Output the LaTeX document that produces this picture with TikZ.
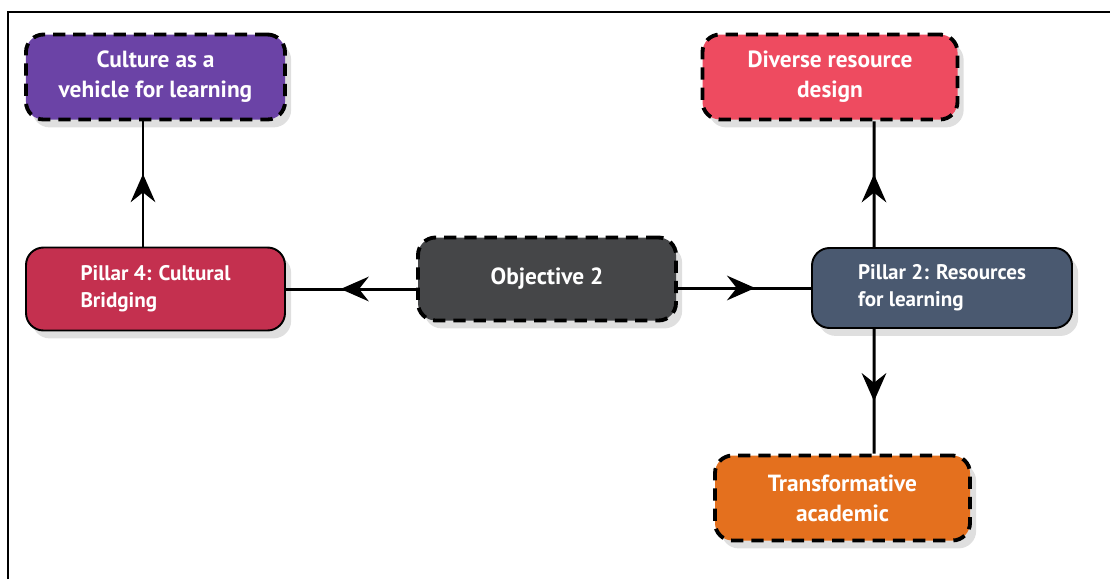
\documentclass[tikz,border=0pt]{standalone}
\usepackage{fontspec}
\setmainfont{PT Sans}
\usetikzlibrary{arrows.meta,shadows,decorations.markings}
\definecolor{CultPurple}{HTML}{6B43A6}
\definecolor{DivRose}{HTML}{EE4B60}
\definecolor{BridgeRed}{HTML}{C4304F}
\definecolor{ObjGray}{HTML}{454648}
\definecolor{ResSlate}{HTML}{4A5970}
\definecolor{TransOrange}{HTML}{E4701E}

\begin{document}
\begin{tikzpicture}[x=0.2mm,y=-0.2mm,
    every node/.style={font=\fontsize{13.3}{17}\selectfont\bfseries, text=white},
    box/.style={draw=black, line width=1.1pt, rounded corners=10pt,
                minimum width=51.8mm, minimum height=16.6mm, inner sep=3pt,
                drop shadow={opacity=0.25, shadow xshift=3.5pt, shadow yshift=-4.5pt}},
    dashbox/.style={box, line width=2.2pt, dash pattern=on 7pt off 4.5pt,
                    align=center, minimum height=17mm},
    pillar/.style={box, align=left, font=\fontsize{12}{15.5}\selectfont\bfseries},
    link/.style={line width=1.7pt, postaction={decorate},
                 decoration={markings, mark=at position 0.58 with
                   {\arrow{Stealth[length=16pt,width=14pt,inset=5.5pt]}}}}]
  \useasboundingbox (0,0) rectangle (1110,579);
  \draw[line width=1.1pt] (8,579) -- (8,12) -- (1110,12);

  % top row
  \node[dashbox, fill=CultPurple] (cult) at (155.5,77) {Culture as a\\vehicle for learning};
  \node[dashbox, fill=DivRose, minimum width=51mm] (div) at (830,77) {Diverse resource\\design};
  % middle row
  \node[pillar, fill=BridgeRed] (pil4) at (155.5,289) {Pillar 4: Cultural\\Bridging};
  \node[dashbox, fill=ObjGray, minimum width=51.6mm, minimum height=16.6mm] (obj) at (547,279) {Objective 2};
  \node[pillar, fill=ResSlate, minimum width=52mm, minimum height=16mm] (pil2) at (942,288) {Pillar 2: Resources\\for learning};
  % bottom
  \node[dashbox, fill=TransOrange, minimum width=51mm] (trans) at (842.5,498) {Transformative\\academic};

  \draw[link] ([xshift=-2.5mm]pil4.north) -- ([xshift=-2.5mm]cult.south);
  \draw[link] (obj.west |- pil4.east) -- (pil4.east);
  \draw[link] (obj.east |- pil2.west) -- (pil2.west);
  \draw[link] ([xshift=-13.6mm]pil2.north) -- ([xshift=8.8mm]div.south);
  \draw[link] ([xshift=-13.6mm]pil2.south) -- ([xshift=6.3mm]trans.north);
\end{tikzpicture}
\end{document}
